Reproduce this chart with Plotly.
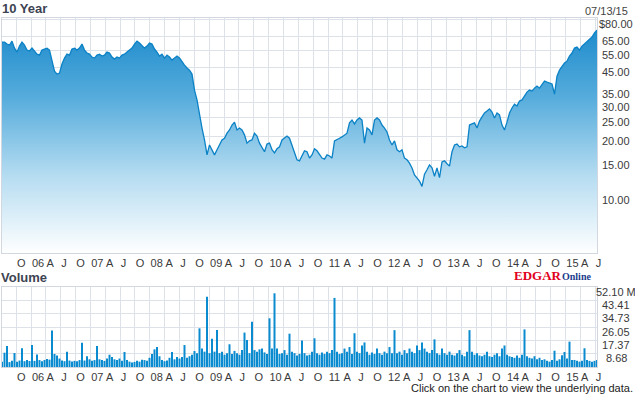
import math
import pandas as pd
import plotly.graph_objects as go

# ---- data ----
start_date = "2005-07-05"
end_date = "2015-07-13"

price = [
    61.0, 61.0, 59.6, 58.9, 61.7, 56.8, 54.2, 58.2, 61.0, 58.9, 55.5, 54.9, 56.8, 54.9, 52.9, 52.3, 55.5, 56.2, 56.8, 55.5,
    48.2, 43.3, 41.8, 42.3, 47.1, 50.5, 52.9, 52.3, 56.2, 56.8, 55.5, 56.8, 59.6, 55.5, 53.6, 52.9, 51.1, 50.5, 52.3, 52.9,
    51.7, 52.3, 54.2, 53.6, 51.1, 49.9, 51.1, 50.5,
    52.3, 52.9, 54.2, 55.5, 56.8, 59.6, 61.7, 60.3, 58.2, 56.8, 58.2, 60.3, 59.6, 56.2, 54.2, 51.7, 52.9, 50.5, 52.3, 51.1,
    49.3, 50.5, 51.7, 50.5,
    48.2, 46.5, 44.9, 43.8, 41.8, 34.6, 30.8, 25.8, 22.1, 19.2,
    16.1, 18.1, 17.1, 16.1, 17.1, 18.1, 19.2, 19.6, 20.8, 21.6,
    22.9, 23.7, 21.6, 22.1, 21.6, 20.4, 18.5, 19.0, 19.2, 20.8,
    20.1, 18.5, 17.7, 16.7, 18.3, 18.5, 17.1, 16.5, 17.3, 17.7,
    19.2, 19.6, 20.1, 19.6, 17.9, 16.7, 15.2, 15.0, 16.1, 16.9,
    16.7, 15.5, 16.1, 17.3, 16.9, 16.1, 15.5, 15.3, 16.1, 15.9,
    15.5, 19.0, 19.4, 19.6, 19.9, 20.4, 20.8, 23.5, 24.3, 23.2,
    24.3, 24.9, 24.3, 18.5, 22.1, 21.6, 20.4, 24.3, 24.9, 24.3,
    22.9, 22.1, 21.1, 19.2, 18.1, 19.0, 17.1, 16.7, 17.1, 15.5,
    15.2, 14.6, 13.8, 12.7, 12.3, 11.8, 11.1, 12.8, 13.5, 14.3,
    13.8, 12.5, 13.8, 12.3, 14.8, 15.0, 14.5, 14.1, 16.7, 18.1,
    18.3, 17.7, 17.9, 17.5, 17.7, 22.9, 23.2, 23.5, 22.1, 24.0,
    25.2, 26.4, 27.0, 27.7, 26.7, 24.9, 26.4, 25.8, 22.9, 21.6,
    23.7, 26.4, 28.0, 29.3, 28.7, 30.4, 30.8, 32.2, 33.8, 34.6,
    34.2, 35.4, 36.3, 35.4,
    36.7, 38.5, 38.0, 37.6, 37.2, 33.0, 40.8, 43.8, 46.0, 47.6,
    48.7, 51.7, 53.6, 56.8, 57.5, 55.5, 58.2, 59.6, 61.7, 63.2,
    64.7, 67.9, 70.3,
]

volume = [  # millions
    3.5, 9.3, 13.7, 3.2, 4.0, 9.1, 3.5, 4.2, 12.2, 3.8, 4.5, 3.9, 14.3, 4.0, 8.2, 4.5, 3.8, 4.6, 5.2, 4.8,
    23.7, 8.5, 7.5, 5.5, 4.2, 3.8, 10.0, 4.2, 3.6, 4.0, 3.8, 4.5, 15.8, 4.2, 7.0, 5.0, 4.0, 4.5, 13.7, 5.0,
    4.5, 4.0, 5.5, 8.0, 6.5, 5.0, 4.5, 5.5,
    4.0, 9.8, 4.5, 3.5, 3.0, 3.3, 4.0, 3.5, 4.8, 4.5, 4.0, 6.0, 8.5, 11.5, 13.0, 7.0, 4.5, 3.8, 4.2, 6.0,
    9.8, 5.0, 6.5, 5.5,
    6.5, 14.3, 6.0, 7.0, 8.0, 10.4, 9.0, 25.2, 12.0, 10.0,
    45.8, 9.0, 18.4, 10.0, 24.1, 9.0, 10.0, 8.0, 9.0, 14.8,
    8.5, 10.5, 9.0, 8.0, 11.0, 22.4, 17.6, 9.0, 29.5, 11.0,
    10.0, 11.5, 12.0, 9.5, 8.5, 31.7, 12.0, 48.0, 12.0, 8.5,
    9.0, 11.0, 8.0, 21.7, 10.0, 9.0, 7.5, 8.5, 17.3, 9.0,
    7.5, 8.0, 10.0, 18.7, 9.0, 8.0, 9.5, 8.5, 10.0, 9.0,
    11.0, 45.0, 10.0, 8.5, 9.0, 12.0, 10.0, 13.0, 8.5, 22.0,
    10.0, 9.0, 14.0, 16.0, 10.0, 8.0, 9.5, 8.5, 12.0, 9.0,
    8.0, 10.0, 9.0, 13.0, 9.0, 24.0, 9.0, 10.0, 8.0, 11.0,
    9.0, 12.0, 10.0, 9.0, 14.0, 11.0, 16.0, 12.0, 10.0, 9.0,
    11.0, 18.0, 9.0, 8.0, 12.0, 9.0, 8.0, 10.0, 8.0, 7.5,
    9.0, 11.0, 8.0, 7.0, 10.0, 24.0, 10.0, 8.0, 9.0, 7.5,
    7.0, 8.0, 10.0, 7.0, 6.5, 8.0, 9.0, 7.0, 12.0, 14.0,
    8.0, 7.0, 6.5, 6.0, 7.5, 6.0, 8.0, 24.5, 7.0, 6.0,
    5.5, 7.0, 5.0, 6.0,
    4.5, 5.0, 4.0, 3.5, 4.5, 10.6, 4.0, 5.0, 7.7, 9.8,
    5.5, 16.5, 4.5, 4.6, 4.0, 3.5, 4.0, 12.2, 4.5, 4.0,
    3.5, 4.0, 4.5,
]

price_ticks = [10, 15, 20, 25, 30, 35, 45, 55, 65, 80]
price_tick_text = ["10.00", "15.00", "20.00", "25.00", "30.00", "35.00", "45.00", "55.00", "65.00", "$80.00"]
vol_ticks = [8.68, 17.37, 26.05, 34.73, 43.41, 52.10]
vol_tick_text = ["8.68", "17.37", "26.05", "34.73", "43.41", "52.10 M"]
quarter_starts = pd.date_range("2005-10-01", "2015-07-01", freq="QS-JAN")
month_letter = {1: None, 4: "A", 7: "J", 10: "O"}
quarter_text = [d.strftime("%y") if d.month == 1 else month_letter[d.month] for d in quarter_starts]

dates = pd.date_range(start_date, end_date, periods=len(price))
PRICE_RANGE = [0.7036, 1.9088]
base = [10 ** PRICE_RANGE[0] * 0.99] * len(price)

GRID = "#dde1e8"
BORDER = "#d3d8e0"
TXT = "#3a3a3a"
FONT = "Liberation Sans, Arial, sans-serif"
SERIF = "Liberation Serif, Times New Roman, serif"

fig = go.Figure()
fig.add_trace(go.Scatter(x=dates, y=base, mode="lines", line=dict(width=0),
                         hoverinfo="skip", showlegend=False, xaxis="x", yaxis="y"))
fig.add_trace(go.Scatter(
    x=dates, y=price, mode="lines", fill="tonexty",
    line=dict(color="#0b82c6", width=1.3),
    fillgradient=dict(type="vertical",
                      colorscale=[[0, "#ffffff"], [0.35, "#b5dcf1"], [0.7, "#56acdc"], [1, "#1f8ccc"]]),
    showlegend=False, xaxis="x", yaxis="y"))
fig.add_trace(go.Bar(x=dates, y=volume, marker=dict(color="#0a8bcf", line=dict(width=0)),
                     showlegend=False, xaxis="x2", yaxis="y2"))

xcommon = dict(
    type="date", range=[start_date, end_date], automargin=False,
    tickmode="array", tickvals=quarter_starts, ticktext=quarter_text,
    tickangle=0,
    showgrid=True, gridcolor=GRID, gridwidth=1.3,
    showline=True, linecolor=BORDER, linewidth=1.3, mirror=True,
    ticks="", ticklabelposition="outside right",
    tickfont=dict(family=FONT, size=11, color=TXT),
    zeroline=False, fixedrange=True,
)
ycommon = dict(
    side="right", automargin=False, tickmode="array", showticklabels=False,
    showgrid=True, gridcolor=GRID, gridwidth=1.3,
    showline=True, linecolor=BORDER, linewidth=1.3, mirror=True,
    ticks="", zeroline=False, fixedrange=True,
)
P_BOTTOM = (367 - 253) / 349
V_TOP = (367 - 287) / 349

fig.update_layout(
    width=635, height=395,
    margin=dict(l=2, r=38, t=18, b=28, autoexpand=False),
    paper_bgcolor="white", plot_bgcolor="white",
    bargap=0.2,
    xaxis=dict(xcommon, anchor="y", domain=[0, 1]),
    xaxis2=dict(xcommon, anchor="y2", domain=[0, 1]),
    yaxis=dict(ycommon, type="log", range=PRICE_RANGE, anchor="x",
               domain=[P_BOTTOM, 1], tickvals=price_ticks),
    yaxis2=dict(ycommon, range=[0, 52.10], anchor="x2",
                domain=[0, V_TOP], tickvals=vol_ticks),
    font=dict(family=FONT, size=11, color=TXT),
)

LABEL_X = (616 - 2) / 595  # paper x of the value labels' centres

# value labels sit a few pixels below their grid lines, as in the reference
for v, t in zip(price_ticks, price_tick_text):
    fig.add_annotation(text=t, xref="paper", yref="y", x=LABEL_X, y=math.log10(v),
                       xanchor="center", yanchor="middle", yshift=-4.5, showarrow=False,
                       font=dict(family=FONT, size=11, color=TXT))
for v, t in zip(vol_ticks, vol_tick_text):
    fig.add_annotation(text=t, xref="paper", yref="y2", x=LABEL_X, y=v,
                       xanchor="center", yanchor="middle", yshift=-4.5, showarrow=False,
                       font=dict(family=FONT, size=11, color=TXT))


def ann(text, x, y, xanchor, size, color, bold=False, family=FONT):
    fig.add_annotation(text=f"<b>{text}</b>" if bold else text, xref="paper", yref="paper",
                       x=x, y=y, xanchor=xanchor, yanchor="middle", showarrow=False,
                       font=dict(family=family, size=size, color=color))


def px_x(p):
    return (p - 2) / 595


def px_y(p):
    return (367 - p) / 349


ann("10 Year", px_x(0), px_y(8.5), "left", 13, "#3d4352", bold=True)
ann("07/13/15", px_x(630), px_y(11.5), "right", 11, "#444444")
ann("Volume", px_x(-1), px_y(277), "left", 13, "#3d4352", bold=True)
ann("EDGAR", px_x(564), px_y(275), "right", 13, "#e2001a", bold=True, family=SERIF)
ann("Online", px_x(560), px_y(276.5), "left", 10, "#1b3c8c", bold=True, family=SERIF)
ann("Click on the chart to view the underlying data.", px_x(635), px_y(388), "right", 11, "#222222")

fig.write_html("out.html")
